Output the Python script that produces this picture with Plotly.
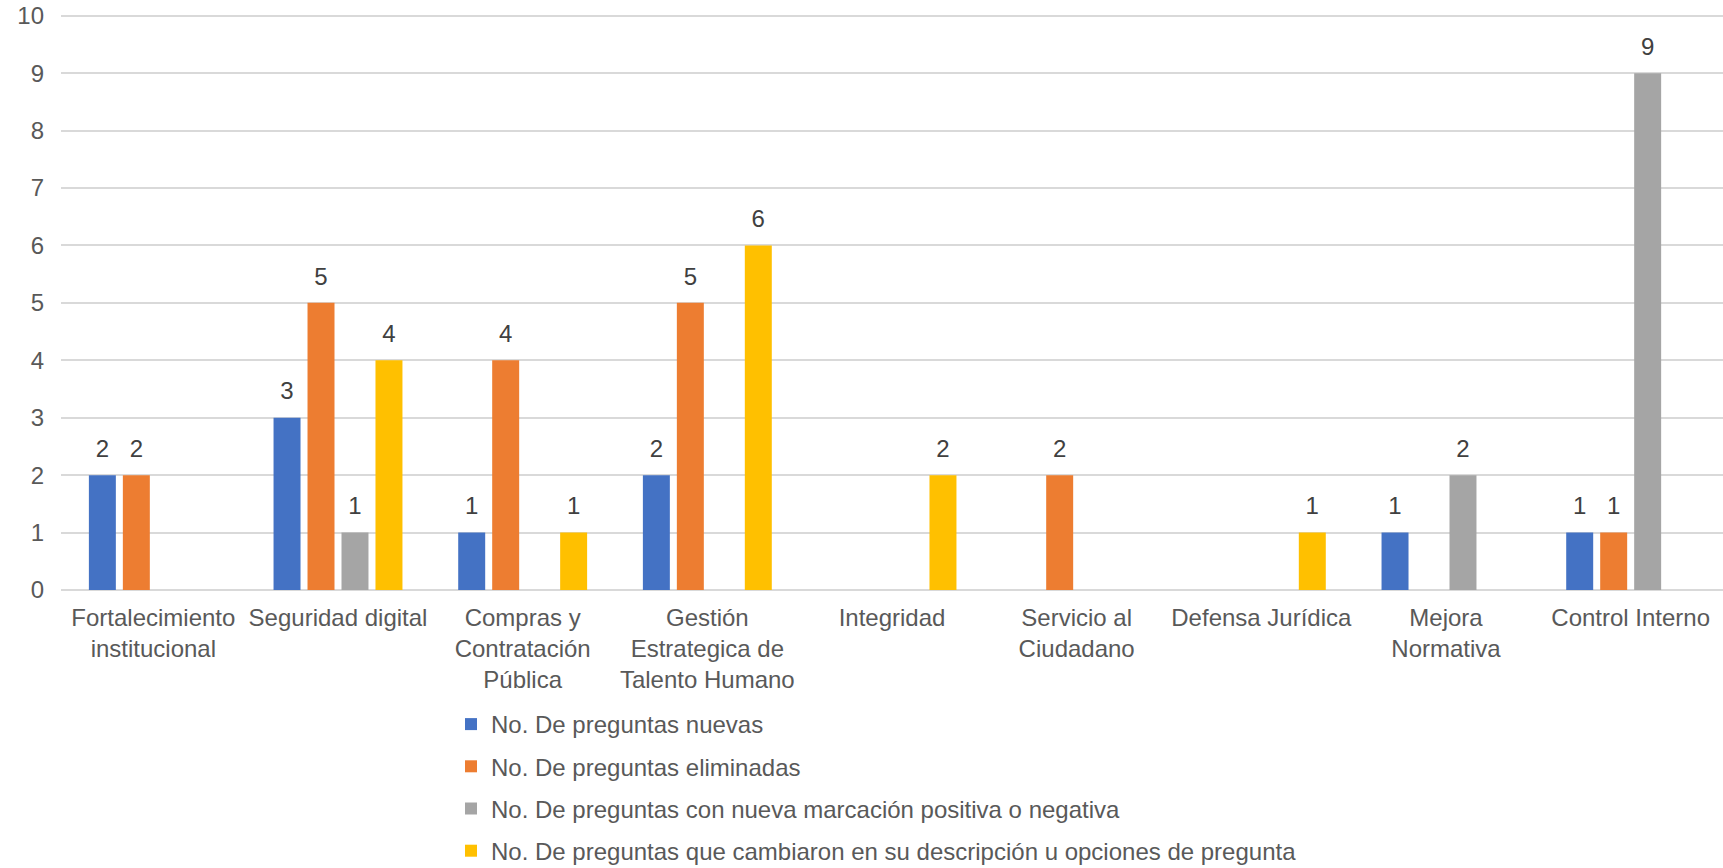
import plotly.graph_objects as go

categories = [
    "Fortalecimiento<br>institucional",
    "Seguridad digital",
    "Compras y<br>Contratación<br>Pública",
    "Gestión<br>Estrategica de<br>Talento Humano",
    "Integridad",
    "Servicio al<br>Ciudadano",
    "Defensa Jurídica",
    "Mejora<br>Normativa",
    "Control Interno",
]
nuevas = [2, 3, 1, 2, None, None, None, 1, 1]
eliminadas = [2, 5, 4, 5, None, 2, None, None, 1]
marcacion = [None, 1, None, None, None, None, None, 2, 9]
cambiaron = [None, 4, 1, 6, 2, None, 1, None, None]

series_names = [
    "No. De preguntas nuevas",
    "No. De preguntas eliminadas",
    "No. De preguntas con nueva marcación positiva o negativa",
    "No. De preguntas que cambiaron en su descripción u opciones de pregunta",
]
series_values = [nuevas, eliminadas, marcacion, cambiaron]
colors = ["#4472C4", "#ED7D31", "#A5A5A5", "#FFC000"]

FONT = "Liberation Sans, Arial, sans-serif"
W, H = 1723, 876
ml, mr, mt, mb = 61, 0, 14, 286
plot_h = H - mt - mb
plot_w = W - ml - mr
BARGAP, GROUPGAP = 0.264, 0.206

fig = go.Figure()
for i, (name, vals, col) in enumerate(zip(series_names, series_values, colors)):
    fig.add_trace(go.Bar(
        x=categories, y=vals, name=name,
        marker=dict(color=col, line=dict(width=0)),
        offsetgroup=f"g{i}", alignmentgroup="a",
        legendgroup=f"g{i}",
        hoverinfo="skip",
    ))
for i, vals in enumerate(series_values):
    fig.add_trace(go.Scatter(
        x=categories, y=vals, mode="markers+text",
        text=[("" if v is None else str(v)) for v in vals],
        textposition="top center",
        textfont=dict(family=FONT, size=24, color="#404040"),
        marker=dict(size=18, color="rgba(0,0,0,0)"),
        offsetgroup=f"g{i}", alignmentgroup="a",
        showlegend=False, cliponaxis=False, hoverinfo="skip",
    ))

fig.update_layout(
    width=W, height=H,
    margin=dict(l=ml, r=mr, t=mt, b=mb),
    paper_bgcolor="white", plot_bgcolor="white",
    barmode="group", bargap=BARGAP, bargroupgap=GROUPGAP,
    scattermode="group", scattergap=BARGAP,
    font=dict(family=FONT, color="#595959", size=24),
    showlegend=True,
    legend=dict(
        orientation="v", x=(451 - ml) / plot_w, xanchor="left",
        y=-283 / plot_h, yanchor="bottom",
        font=dict(family=FONT, size=24, color="#595959"),
        traceorder="grouped", tracegroupgap=8,
        bgcolor="rgba(0,0,0,0)",
    ),
)
fig.update_yaxes(
    range=[0, 10.03], tickvals=list(range(0, 11)), showgrid=True,
    gridcolor="#D9D9D9", gridwidth=1.5,
    zeroline=True, zerolinecolor="#D9D9D9", zerolinewidth=1.5,
    showline=False, ticks="", ticklabelstandoff=16, ticklabeloverflow="allow",
    automargin=False,
    tickfont=dict(family=FONT, size=24, color="#595959"),
)
fig.update_xaxes(
    showline=False, ticks="", ticklabelstandoff=11, automargin=False,
    tickfont=dict(family=FONT, size=24, color="#595959"), tickangle=0,
)
fig.write_html("out.html", config={"displayModeBar": False},
               post_script="document.body.style.margin='0';")
